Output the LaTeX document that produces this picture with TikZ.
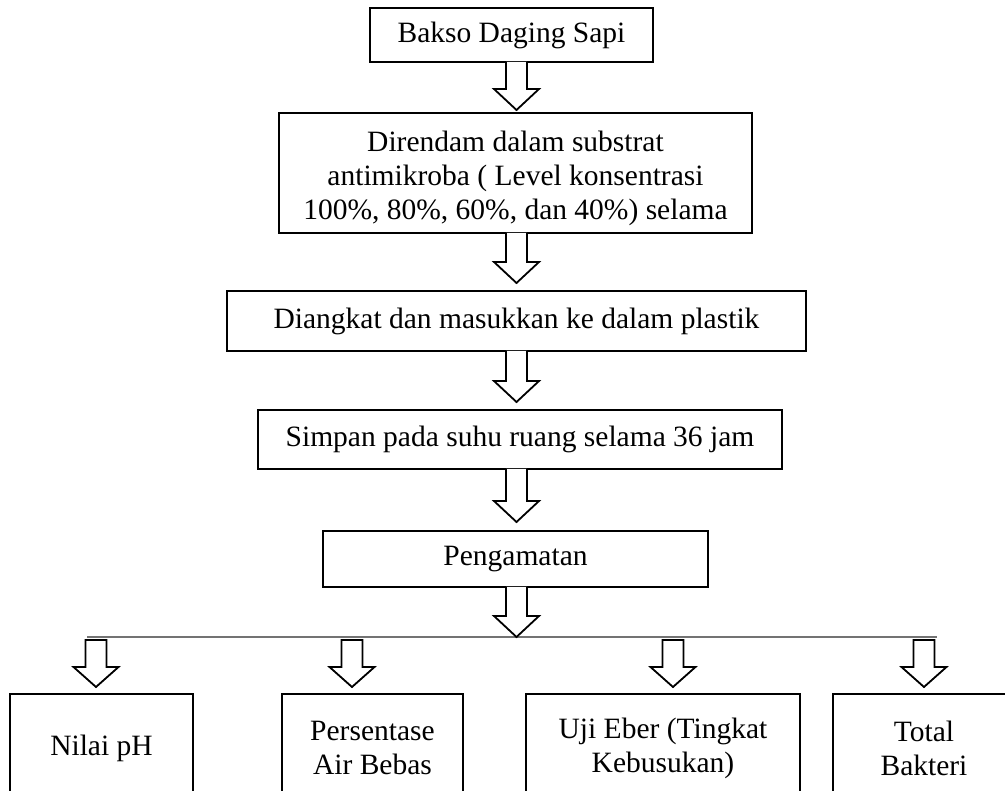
\documentclass[tikz,border=0pt]{standalone}
\usepackage{fontspec}
\setmainfont{Liberation Serif}
\usetikzlibrary{calc}
\tikzset{
  box/.style={draw, line width=1.8pt, align=center, inner sep=0pt, outer sep=0pt,
    font=\fontsize{29.5}{34}\selectfont},
  txt/.style={align=center, inner sep=0pt, outer sep=0pt, font=\fontsize{29.5}{34}\selectfont},
  fatarr/.style={draw, line width=1.8pt, fill=white, line join=miter},
  hline/.style={draw=black!55, line width=1.6pt},
}
\newcommand{\fatarrow}[2]{%
  \draw[fatarr] let \p1=(#1), \p2=(#2) in
    (\x2-10.5pt,\y1) -- (\x2-10.5pt,\y2+21pt) -- (\x2-22.5pt,\y2+21pt) -- (\x2,\y2)
    -- (\x2+22.5pt,\y2+21pt) -- (\x2+10.5pt,\y2+21pt) -- (\x2+10.5pt,\y1);}
\newcommand{\fatarrowclosed}[2]{%
  \draw[fatarr] let \p1=(#1), \p2=(#2) in
    (\x2-10.5pt,\y1) -- (\x2-10.5pt,\y2+20pt) -- (\x2-22.5pt,\y2+20pt) -- (\x2,\y2)
    -- (\x2+22.5pt,\y2+20pt) -- (\x2+10.5pt,\y2+20pt) -- (\x2+10.5pt,\y1) -- cycle;}
\begin{document}
\begin{tikzpicture}[x=1pt,y=-1pt]
\useasboundingbox (0,0) rectangle (1005,791);
\clip (0,0) rectangle (1005,791);
\fill[white] (0,0) rectangle (1005,791);

% main column
\node[box, minimum width=283pt, minimum height=54pt] (b1) at (511.5,35) {Bakso Daging Sapi};
\node[box, minimum width=473pt, minimum height=120pt] (b2) at (515.5,173) {};
\node[txt] (t2) at (515.5,178)
  {Direndam dalam substrat\\antimikroba ( Level konsentrasi\\100\%, 80\%, 60\%, dan 40\%) selama};
\node[box, minimum width=579pt, minimum height=60pt] (b3) at (516.5,321) {Diangkat dan masukkan ke dalam plastik};
\node[box, minimum width=524pt, minimum height=59pt] (b4) at (520,439.5) {Simpan pada suhu ruang selama 36 jam};
\node[box, minimum width=385pt, minimum height=56pt] (b5) at (515.5,559) {Pengamatan};

% bottom row
\node[box, minimum width=183pt, minimum height=108pt] (n1) at (101.5,748) {Nilai pH};
\node[box, minimum width=181pt, minimum height=108pt] (n2) at (372.5,748) {Persentase\\Air Bebas};
\node[box, minimum width=274pt, minimum height=108pt] (n3) at (663,748) {Uji Eber (Tingkat\\Kebusukan)};
\node[box, minimum width=182pt, minimum height=108pt] (n4) at (924,748) {Total\\Bakteri};

% axis and branch line
\coordinate (ax) at (516.5,0);
\coordinate (hl) at (87,637);
\coordinate (hr) at (937,637);
\draw[hline] (hl) -- (hr);

% main arrows
\fatarrow{b1.south -| ax}{$(b2.north -| ax)+(0,-3)$}
\fatarrow{b2.south -| ax}{$(b3.north -| ax)+(0,-8)$}
\fatarrow{b3.south -| ax}{$(b4.north -| ax)+(0,-8)$}
\fatarrow{b4.south -| ax}{$(b5.north -| ax)+(0,-9)$}
\fatarrow{b5.south -| ax}{ax |- hl}

% branch arrows
\coordinate (s1) at (96,640);
\coordinate (s2) at (352,640);
\coordinate (s3) at (673,640);
\coordinate (s4) at (924,640);
\fatarrowclosed{s1}{$(n1.north -| s1)+(0,-7)$}
\fatarrowclosed{s2}{$(n2.north -| s2)+(0,-7)$}
\fatarrowclosed{s3}{$(n3.north -| s3)+(0,-7)$}
\fatarrowclosed{s4}{$(n4.north -| s4)+(0,-7)$}
\end{tikzpicture}
\end{document}
